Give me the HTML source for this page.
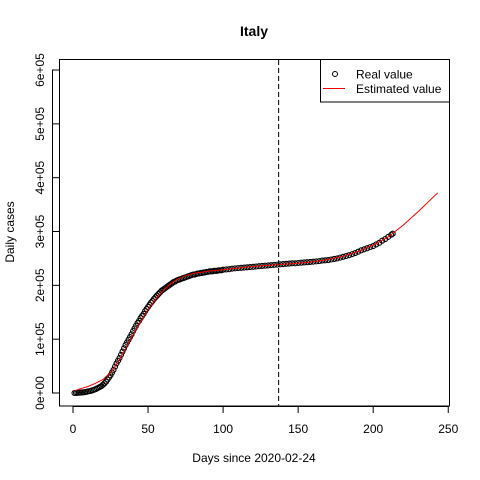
<!DOCTYPE html>
<html><head><meta charset="utf-8"><style>
body{margin:0;background:#fff}
svg{display:block;font-family:"Liberation Sans",Arial,sans-serif}
</style></head><body>
<svg id="chart" width="480" height="480" viewBox="0 0 480 480">
<text x="254" y="36" font-size="14" font-weight="bold" text-anchor="middle">Italy</text>
<rect x="59.5" y="59.5" width="390" height="346.5" fill="none" stroke="#000"/>
<g id="xaxis"></g>
<g id="yaxis"></g>
<text x="254" y="462" font-size="12" text-anchor="middle">Days since 2020-02-24</text>
<text transform="translate(14,232) rotate(-90)" font-size="12" text-anchor="middle">Daily cases</text>
<g id="points"></g>
<path id="estline" fill="none" stroke="#e00" stroke-width="1"/>
<line id="vline" y1="60" y2="406" stroke="#000" stroke-dasharray="5,3"/>
<g>
<rect x="320.5" y="59.5" width="129" height="42.5" fill="#fff" stroke="#000"/>
<circle cx="335" cy="74" r="2.5" fill="none" stroke="#000"/>
<text x="356" y="78.5" font-size="12">Real value</text>
<line x1="323" x2="345" y1="88.5" y2="88.5" stroke="#e00"/>
<text x="356" y="93" font-size="12">Estimated value</text>
</g>
</svg>
<script>
const xTicks=[0,50,100,150,200,250];
const yTicks=[0,100000,200000,300000,400000,500000,600000];
const yTickLabels=["0e+00","1e+05","2e+05","3e+05","4e+05","5e+05","6e+05"];
const realDays=[1,2,3,4,5,6,7,8,9,10,11,12,13,14,15,16,17,18,19,20,21,22,23,24,25,26,27,28,29,30,31,32,33,34,35,36,37,38,39,40,41,42,43,44,45,46,47,48,49,50,51,52,53,54,55,56,57,58,59,60,61,62,63,64,65,66,67,68,69,70,71,72,73,74,75,76,77,78,79,80,81,82,83,84,85,86,87,88,89,90,91,92,93,94,95,96,97,98,99,100,102,104,106,108,110,112,114,116,118,120,122,124,126,128,130,132,134,136,138,140,142,144,146,148,150,152,154,156,158,160,162,164,166,168,170,172,174,176,178,180,182,184,186,188,190,192,194,196,198,200,202,204,206,208,210,212,213];
const realVals=[0,0.2,0.4,0.6,0.8,1,1.3,1.7,2.2,3,3.5,4,5,6,7,8.5,10,11.5,13,15.5,18,21,25,29,33,38,43,49,55,60,65,71,77,83,89,94,99,104,109,115,120,125,130,134,139,143,147,152,156,160,164,168,171,175,178,181,184,187,190,192,194,196,198,200,202,204,206,207,209,210,211,212,213,214,215,216,217,218,219,220,220,221,222,222,223,223,224,224,225,225,226,226,226,227,227,227,228,228,228,229,229.5,230,231,231.5,232,232.5,233,233.5,234,234.5,235,235.5,236,236.5,237,237.5,238,238.5,239,239.5,240,240.5,241,241,241.5,242,242.5,243,243.5,244,244.5,245,246,246.5,247,248,249,250,251.5,253,254.5,256,258,260,262.5,265,267,269,271,273,276,279,283,286,290,294,296];
const estDays=[1,5,10,15,20,25,30,35,40,45,50,55,60,65,70,75,80,90,100,110,120,130,140,150,160,170,180,190,200,210,220,230,243];
const estVals=[4,8,12,18,25,38,57,82,108,132,155,174,190,203,212,218,222,226,229,232,235,237,239,241,244,248,254,263,275,290,312,337,372];
const cutoffDay=137;
const sx=d=>73+d*1.501;
const sy=v=>393-v*53.83/100000;
const NS="http://www.w3.org/2000/svg";
function mk(tag,attrs,parent){const e=document.createElementNS(NS,tag);for(const k in attrs)e.setAttribute(k,attrs[k]);parent.appendChild(e);return e;}
const xa=document.getElementById('xaxis');
mk('line',{x1:sx(0),x2:sx(250),y1:406.5,y2:406.5,stroke:'#000'},xa);
xTicks.forEach(t=>{
 const l=mk('line',{x1:sx(t),x2:sx(t),y1:406,y2:413,stroke:'#000'},xa);
 
 
 const tx=mk('text',{x:sx(t),y:433,'font-size':12,'text-anchor':'middle'},xa);
 tx.textContent=t;
 
 
});
const ya=document.getElementById('yaxis');
mk('line',{x1:52.5,x2:52.5,y1:sy(0),y2:sy(600000),stroke:'#000'},ya);
yTicks.forEach((t,i)=>{
 const l=mk('line',{x1:52,x2:59,y1:sy(t),y2:sy(t),stroke:'#000'},ya);
 
 
 const tx=mk('text',{transform:`translate(44,${sy(t)}) rotate(-90)`,'font-size':12,'text-anchor':'middle'},ya);
 tx.textContent=yTickLabels[i];
 
 
});
const pg=document.getElementById('points');
realDays.forEach((d,i)=>{
 const c=mk('circle',{cx:sx(d),cy:sy(realVals[i]*1000),r:2.5,fill:'none',stroke:'#000','stroke-width':1.1},pg);
 
 
});
document.getElementById('estline').setAttribute('d',estDays.map((d,i)=>(i?'L':'M')+sx(d).toFixed(1)+','+sy(estVals[i]*1000).toFixed(1)).join(''));
const vl=document.getElementById('vline');vl.setAttribute('x1',sx(cutoffDay));vl.setAttribute('x2',sx(cutoffDay));
</script>
</body></html>
